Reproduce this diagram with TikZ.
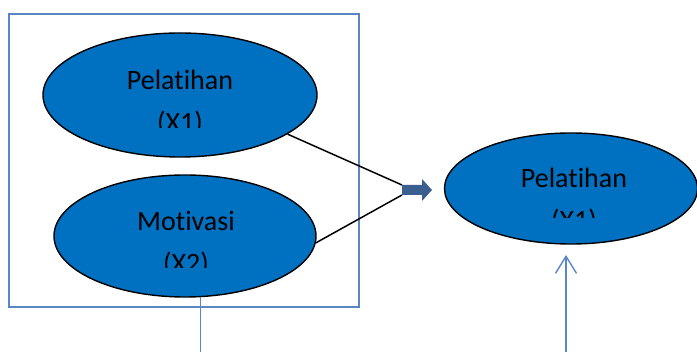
\documentclass[tikz,border=0pt]{standalone}
\usepackage{fontspec}
\setmainfont{Carlito}[Ligatures={NoCommon,NoRare,NoContextual}]
\usetikzlibrary{shapes.geometric,arrows.meta}
\definecolor{frameblue}{HTML}{5A86C3}
\definecolor{ellblue}{HTML}{0070C0}
\definecolor{arrblue}{HTML}{3A5E8E}
\tikzset{
  var/.style={ellipse,draw=black,line width=1.4pt,fill=ellblue,inner sep=0pt},
  frame/.style={rectangle,draw=frameblue,line width=1.4pt,inner sep=0pt},
  lbl/.style={anchor=base,font=\fontsize{28}{34}\selectfont,text=black,inner sep=0pt},
  conn/.style={draw=black,line width=1.5pt},
  bline/.style={draw=frameblue,line width=1.4pt}
}
\begin{document}
\begin{tikzpicture}[x=1pt,y=-1pt]
\useasboundingbox (0,0) rectangle (697,352);
% frame
\node[frame,minimum width=350pt,minimum height=293pt] (box) at (184,160.5) {};
% ellipses
\node[var,minimum width=274pt,minimum height=124pt] (e1) at (180,95) {};
\node[var,minimum width=262pt,minimum height=122pt] (e2) at (185,236) {};
\node[var,minimum width=253pt,minimum height=111pt] (e3) at (571,188.5) {};
% labels (clipped as in the reference)
\begin{scope}
\clip (0,0) rectangle (360,128);
\node[lbl] (t1a) at (180,89.5) {Pelat\kern0pt ihan};
\node[lbl] (t1b) at (180,131.5) {(X1)};
\end{scope}
\begin{scope}
\clip (0,140) rectangle (360,268);
\node[lbl] (t2a) at (186,231) {Motivasi};
\node[lbl] (t2b) at (186,272.5) {(X2)};
\end{scope}
\begin{scope}
\clip (440,130) rectangle (697,218);
\node[lbl] (t3a) at (574,187.5) {Pelat\kern0pt ihan};
\node[lbl] (t3b) at (574,229.5) {(X1)};
\end{scope}
% block arrow
\coordinate (ta) at (402,185);
\coordinate (tb) at (402,195);
\fill[arrblue] (ta) -- (422,185) -- (422,179) -- (432,190) -- (422,201) -- (422,195) -- (tb) -- cycle;
% connectors
\draw[conn] (e1.-20) -- (ta);
\draw[conn] (e2.-3) -- (tb);
% vertical lines
\coordinate (b1) at (200,352);
\draw[bline] (e2.-76) -- (e2.-76 |- b1);
\coordinate (b2) at (566,352);
\coordinate (h2) at (566,255);
\draw[bline,-{Straight Barb[length=17pt,width=21pt,line width=1.4pt]}] (b2) -- (h2);
\end{tikzpicture}
\end{document}
